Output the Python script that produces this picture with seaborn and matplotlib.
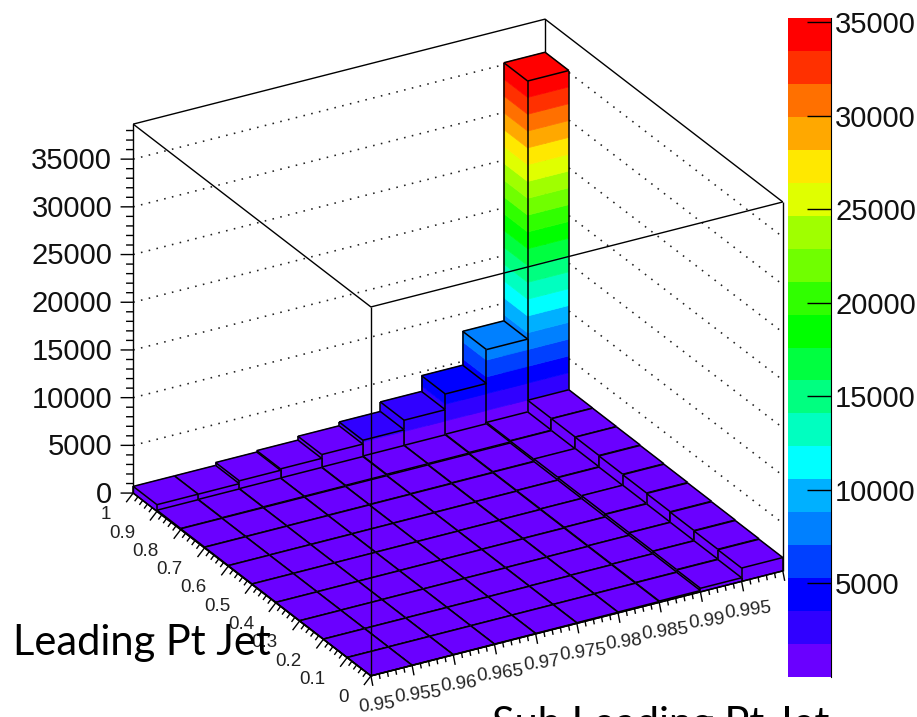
import numpy as np
import matplotlib
matplotlib.use("Agg")
import matplotlib.pyplot as plt
import seaborn as sns
from matplotlib.colors import ListedColormap
from mpl_toolkits.mplot3d import proj3d
from mpl_toolkits.mplot3d.art3d import Poly3DCollection, Line3DCollection

# Bin edges of the lego plot
X_EDGES = [0.95, 0.955, 0.96, 0.965, 0.97, 0.975, 0.98, 0.985, 0.99, 0.995, 1.0]
Y_EDGES = [0.0, 0.1, 0.2, 0.3, 0.4, 0.5, 0.6, 0.7, 0.8, 0.9, 1.0]

# Bin contents per leading pt row
ROW_00 = [10, 20, 30, 40, 50, 70, 90, 140, 380, 1400]
ROW_01 = [20, 30, 40, 50, 60, 80, 110, 170, 420, 1450]
ROW_02 = [30, 40, 50, 60, 70, 90, 120, 180, 440, 1500]
ROW_03 = [40, 50, 60, 70, 80, 100, 130, 190, 460, 1550]
ROW_04 = [50, 60, 70, 80, 90, 110, 150, 210, 500, 1600]
ROW_05 = [60, 70, 70, 90, 100, 120, 160, 220, 480, 1650]
ROW_06 = [70, 80, 90, 100, 120, 140, 180, 240, 520, 1700]
ROW_07 = [90, 100, 110, 130, 150, 180, 220, 280, 480, 1720]
ROW_08 = [120, 150, 180, 200, 240, 300, 320, 380, 520, 1740]
ROW_09 = [700, 700, 1000, 1150, 1550, 1950, 2950, 4600, 8150, 35200]

# Colour palette, bottom to top
BAND_COLORS = ["#6a00ff", "#3000ff", "#0000ff", "#0040ff", "#0080ff",
               "#00b0ff", "#00ffff", "#00ffc0", "#00ff80", "#00ff40",
               "#00ff00", "#30ff00", "#70ff00", "#a0ff00", "#e0ff00",
               "#ffe800", "#ffa800", "#ff7000", "#ff3000", "#ff0000"]
Z_MIN = 0
Z_MAX = 35240
Z_AXIS_TOP = 38670

X_TICKS = [0.95, 0.955, 0.96, 0.965, 0.97, 0.975, 0.98, 0.985, 0.99, 0.995]
X_LABELS = ["0.95", "0.955", "0.96", "0.965", "0.97", "0.975", "0.98", "0.985", "0.99", "0.995"]
Y_TICKS = [0, 0.1, 0.2, 0.3, 0.4, 0.5, 0.6, 0.7, 0.8, 0.9, 1.0]
Y_LABELS = ["0", "0.1", "0.2", "0.3", "0.4", "0.5", "0.6", "0.7", "0.8", "0.9", "1"]
Z_TICKS = [0, 5000, 10000, 15000, 20000, 25000, 30000, 35000]
CBAR_TICKS = [5000, 10000, 15000, 20000, 25000, 30000, 35000]

sns.set_style("white")
plt.rcParams["font.family"] = ["Liberation Sans", "DejaVu Sans"]

heights = np.array([ROW_00, ROW_01, ROW_02, ROW_03, ROW_04,
                    ROW_05, ROW_06, ROW_07, ROW_08, ROW_09], dtype=float)
levels = np.linspace(Z_MIN, Z_MAX, len(BAND_COLORS) + 1)

fig = plt.figure(figsize=(9.17, 7.17), dpi=100, facecolor="white")
ax = fig.add_axes([-10.2 / 917, 1.3 / 717, 1, 1], projection="3d", computed_zorder=False)
ax.set_proj_type("ortho")
ax.view_init(elev=26.28, azim=-119.93)
ax.set_box_aspect((475.3, 476.5, 411.5), zoom=1.068)
ax.set_xlim(X_EDGES[0], X_EDGES[-1])
ax.set_ylim(Y_EDGES[0], Y_EDGES[-1])
ax.set_zlim(0, Z_AXIS_TOP)
ax.set_axis_off()

x0, x1 = X_EDGES[0], X_EDGES[-1]
y0, y1 = Y_EDGES[0], Y_EDGES[-1]
xspan = x1 - x0


def line3d(xs, ys, zs, z_order, **kw):
    kw.setdefault("color", "black")
    kw.setdefault("lw", 1.0)
    ax.plot(xs, ys, zs, zorder=z_order, solid_capstyle="butt", **kw)


def label3d(x, y, z, s, **kw):
    # put a tick label at a point of the box, as plain 2D text
    px, py, _ = proj3d.proj_transform(x, y, z, ax.get_proj())
    ax.text2D(px, py, s, transform=ax.transData, **kw)


# Back walls: dotted lines at the z ticks
for z in Z_TICKS[1:]:
    line3d([x0, x1, x1], [y1, y1, y0], [z, z, z], 1, lw=1.15, ls=(0, (1, 4)), color="#222222")
line3d([x1, x1], [y1, y1], [0, Z_AXIS_TOP], 1)
line3d([x0, x1, x1], [y1, y1, y0], [Z_AXIS_TOP] * 3, 1)

# Lego bins, back to front
order = 10
for iy in range(9, -1, -1):
    for ix in range(9, -1, -1):
        h = heights[iy, ix]
        xa, xb = X_EDGES[ix], X_EDGES[ix + 1]
        ya, yb = Y_EDGES[iy], Y_EDGES[iy + 1]
        verts, cols = [], []
        for b in range(len(BAND_COLORS)):
            lo = levels[b]
            if lo >= h:
                break
            hi = min(levels[b + 1], h)
            verts.append([(xb, ya, lo), (xb, ya, hi), (xa, ya, hi), (xa, ya, lo)])
            cols.append(BAND_COLORS[b])
            verts.append([(xa, ya, lo), (xa, ya, hi), (xa, yb, hi), (xa, yb, lo)])
            cols.append(BAND_COLORS[b])
        verts.append([(xa, ya, h), (xb, ya, h), (xb, yb, h), (xa, yb, h)])
        cols.append(cols[-1])
        poly = Poly3DCollection(verts, facecolors=cols, edgecolors=cols, linewidths=0.5, zorder=order)
        ax.add_collection3d(poly, autolim=False)
        segs = [[(xa, ya, h), (xb, ya, h)], [(xb, ya, h), (xb, yb, h)],
                [(xb, yb, h), (xa, yb, h)], [(xa, yb, h), (xa, ya, h)],
                [(xa, ya, 0), (xa, ya, h)], [(xb, ya, 0), (xb, ya, h)],
                [(xa, yb, 0), (xa, yb, h)],
                [(xa, ya, 0), (xb, ya, 0)], [(xa, ya, 0), (xa, yb, 0)]]
        ax.add_collection3d(Line3DCollection(segs, colors="black", linewidths=1.1, zorder=order + 0.5),
                            autolim=False)
        order += 1

# Front edges of the box run over the bars
top = order + 10
line3d([x0, x0, x1, x1], [y1, y0, y0, y0], [Z_AXIS_TOP] * 4, top)
line3d([x0, x0], [y0, y0], [0, Z_AXIS_TOP], top)
line3d([x0, x0], [y1, y1], [0, Z_AXIS_TOP], top)
line3d([x1, x1], [y0, y0], [0, Z_AXIS_TOP], top)
line3d([x0, x1], [y0, y0], [0, 0], top)
line3d([x0, x0], [y0, y1], [0, 0], top)

# z axis ticks
for z in np.arange(0, 38001, 1000):
    major = z % 5000 == 0
    d = 0.023 if major else 0.013
    line3d([x0, x0 - d * xspan], [y1, y1 + 0.574 * d], [z, z], top)
for z in Z_TICKS:
    label3d(x0 - 0.0383 * xspan, y1 + 0.022, z - 200, str(z), ha="right", va="center",
            fontsize=21, color="#111111", zorder=top)

# x axis ticks
for i in range(51):
    xv = x0 + i * 0.001
    major = i % 5 == 0
    d, e = (0.008, 0.023) if major else (0.004, 0.012)
    line3d([xv, xv], [y0, y0 - d], [0, -e * Z_AXIS_TOP], top)
for xv, lab in zip(X_TICKS, X_LABELS):
    label3d(xv, y0 - 0.025, -0.066 * Z_AXIS_TOP, lab, ha="center", va="center", rotation=7,
            fontsize=13.5, color="#222222", zorder=top)

# y axis ticks
for i in range(51):
    yv = y0 + i * 0.02
    major = i % 5 == 0
    d, e = (0.017, 0.02) if major else (0.008, 0.01)
    line3d([x0, x0 - d * xspan], [yv, yv], [0, -e * Z_AXIS_TOP], top)
for yv, lab in zip(Y_TICKS, Y_LABELS):
    label3d(x0 - 0.053 * xspan, yv, -0.044 * Z_AXIS_TOP, lab, ha="right", va="center",
            fontsize=13.5, color="#222222", zorder=top)

# Palette strip
cax = fig.add_axes([788 / 917, 1 - 677 / 717, 43 / 917, 659 / 717], zorder=5)
mids = (levels[:-1] + levels[1:]) / 2
sns.heatmap(mids[::-1].reshape(-1, 1), ax=cax, cmap=ListedColormap(BAND_COLORS), vmin=Z_MIN, vmax=Z_MAX,
            cbar=False, xticklabels=False, yticklabels=False)
for s in cax.spines.values():
    s.set_visible(False)
tax = cax.twinx()
tax.set_ylim(Z_MIN, Z_MAX)
tax.set_yticks(CBAR_TICKS)
tax.set_yticklabels([str(v) for v in CBAR_TICKS], fontsize=21, color="#111111")
tax.tick_params(axis="y", direction="in", length=17, width=1.0, pad=3, color="black", right=True)
for name, s in tax.spines.items():
    s.set_visible(name == "right")
tax.spines["right"].set_color("black")

# Text pasted over the plot
fig.text(13 / 917, 1 - 655 / 717, "Leading Pt Jet", fontsize=30, family="Lato", color="black", zorder=10)
fig.text(492 / 917, 1 - 737 / 717, "Sub Leading Pt Jet", fontsize=30, family="Lato", color="black", zorder=10)

fig.savefig("out.png", dpi=100, facecolor="white")
plt.close(fig)
